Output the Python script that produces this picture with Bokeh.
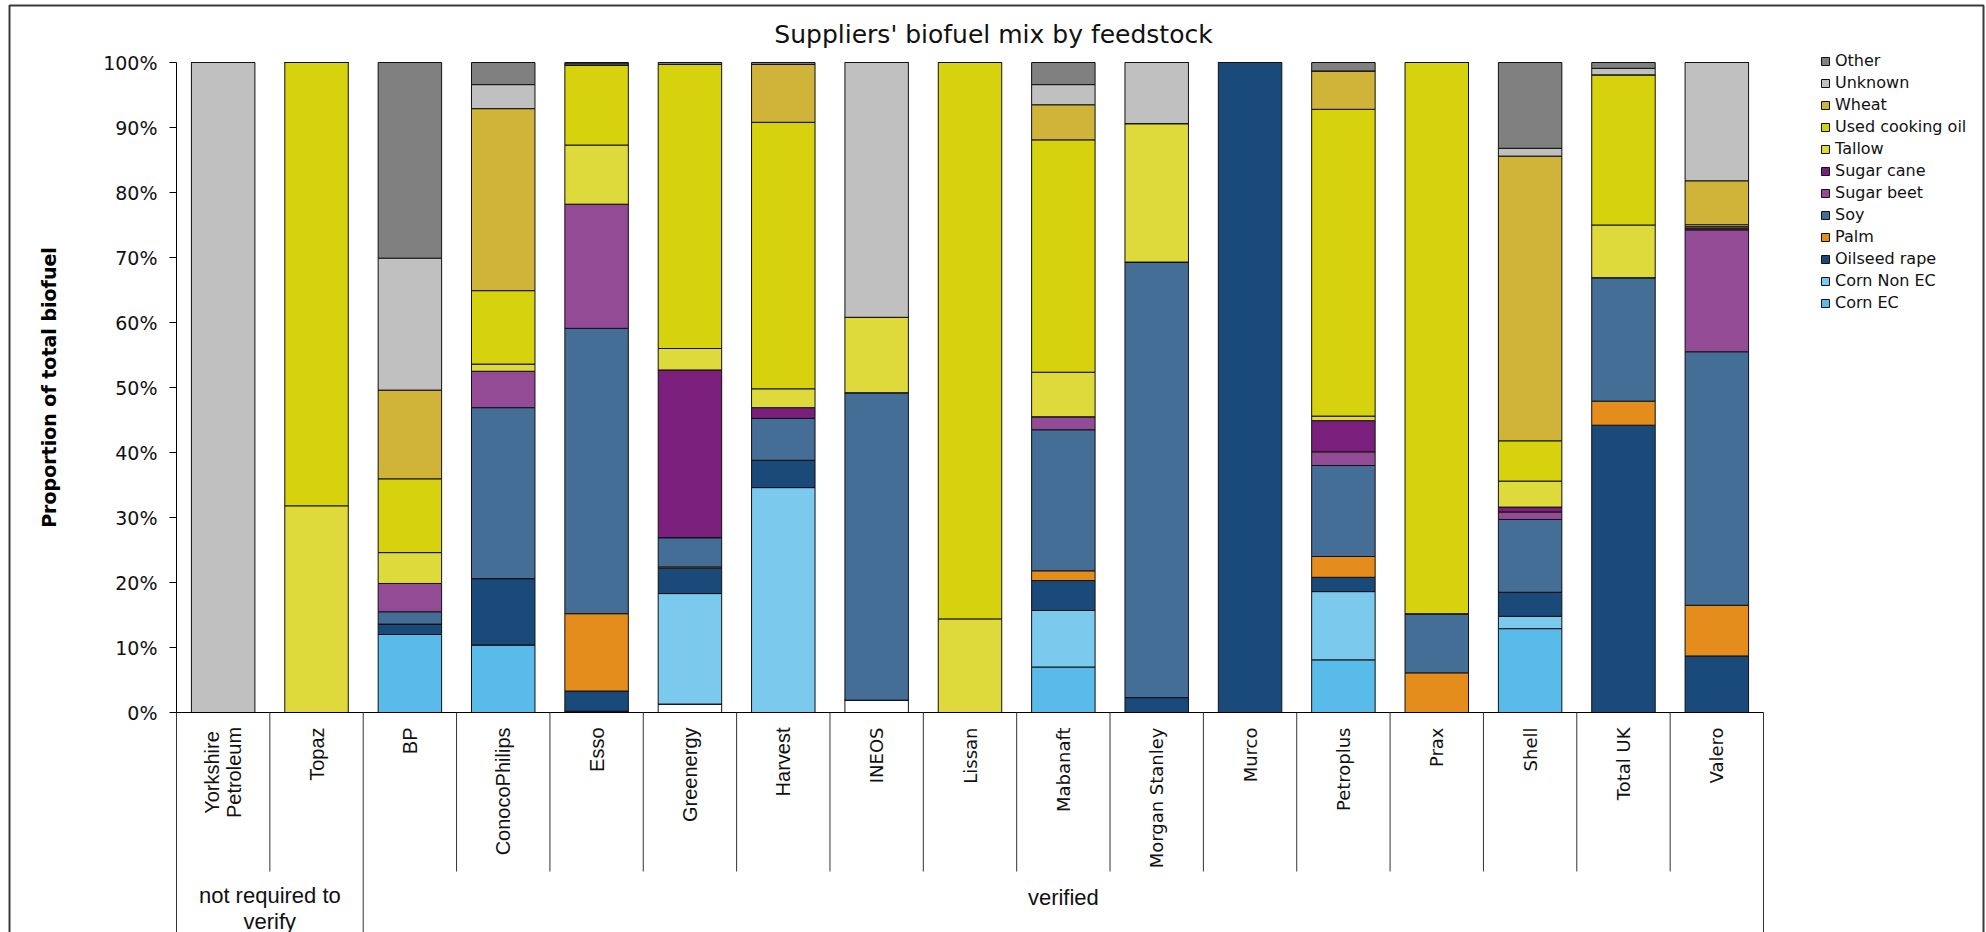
import math

from bokeh.core.properties import value
from bokeh.embed import file_html
from bokeh.models import (ColumnDataSource, FixedTicker, Label, Legend,
                          LegendItem, PrintfTickFormatter, Range1d)
from bokeh.plotting import figure
from bokeh.resources import INLINE

# ---------------------------------------------------------------- data
suppliers = ["Yorkshire Petroleum", "Topaz", "BP", "ConocoPhilips", "Esso",
             "Greenergy", "Harvest", "INEOS", "Lissan", "Mabanaft",
             "Morgan Stanley", "Murco", "Petroplus", "Prax", "Shell",
             "Total UK", "Valero"]
groups = ["not required to\nverify", "verified"]
group_sizes = [2, 15]

# share of each feedstock in every supplier's biofuel (%), bottom to top
unassigned = [0, 0, 0, 0, 0, 1.3, 0, 1.9, 0, 0, 0, 0, 0, 0, 0, 0, 0]
corn_ec = [0, 0, 12.0, 10.4, 0.2, 0, 0, 0, 0, 7.0, 0, 0, 8.1, 0, 12.9, 0, 0]
corn_non_ec = [0, 0, 0, 0, 0, 17.0, 34.6, 0, 0, 8.7, 0, 0, 10.5, 0, 1.9, 0, 0]
oilseed_rape = [0, 0, 1.6, 10.2, 3.1, 3.9, 4.2, 0, 0, 4.6, 2.3, 100, 2.2, 0, 3.7, 44.2, 8.7]
palm = [0, 0, 0, 0, 11.9, 0.2, 0, 0, 0, 1.5, 0, 0, 3.2, 6.1, 0, 3.7, 7.8]
soy = [0, 0, 1.9, 26.3, 43.9, 4.5, 6.45, 47.3, 0, 21.7, 67.0, 0, 14.0, 9.1, 11.2, 19.0, 39.0]
sugar_beet = [0, 0, 4.35, 5.6, 19.1, 0, 0, 0, 0, 2.0, 0, 0, 2.1, 0, 1.15, 0, 18.75]
sugar_cane = [0, 0, 0, 0, 0, 25.8, 1.65, 0, 0, 0, 0, 0, 4.8, 0, 0.75, 0, 0.3]
tallow = [0, 31.8, 4.75, 1.1, 9.1, 3.3, 2.9, 11.6, 14.4, 6.85, 21.3, 0, 0.7, 0, 4.0, 8.1, 0.2]
used_cooking_oil = [0, 68.2, 11.35, 11.3, 12.3, 43.7, 41.0, 0, 85.6, 35.75, 0, 0, 47.2, 84.8, 6.2, 23.1, 0.3]
wheat = [0, 0, 13.65, 28.0, 0, 0, 8.9, 0, 0, 5.4, 0, 0, 5.9, 0, 43.8, 0, 6.75]
unknown = [100, 0, 20.3, 3.7, 0.2, 0, 0, 39.2, 0, 3.1, 9.4, 0, 0, 0, 1.2, 1.0, 18.2]
other = [0, 0, 30.1, 3.4, 0.2, 0.3, 0.3, 0, 0, 3.4, 0, 0, 1.3, 0, 13.2, 0.9, 0]

series_names = ["", "Corn EC", "Corn Non EC", "Oilseed rape", "Palm", "Soy",
                "Sugar beet", "Sugar cane", "Tallow", "Used cooking oil",
                "Wheat", "Unknown", "Other"]
series_values = [unassigned, corn_ec, corn_non_ec, oilseed_rape, palm, soy,
                 sugar_beet, sugar_cane, tallow, used_cooking_oil, wheat,
                 unknown, other]
series_colors = ["#FFFFFF", "#58BBEA", "#7CC9EE", "#1A4A7A", "#E48D1C",
                 "#446E96", "#944B96", "#7A1F7B", "#DEDA3C", "#D6D20E",
                 "#D0B43A", "#C0C0C0", "#808080"]

y_ticks = [0, 10, 20, 30, 40, 50, 60, 70, 80, 90, 100]

# ---------------------------------------------------------------- layout
W, H = 1986, 932
AX_LEFT, AX_RIGHT = 176, 1763      # pixel extent of the category axis
Y0_PX, Y100_PX = 712, 62           # pixel rows of 0 % and 100 %
n = len(suppliers)
px_per_cat = (AX_RIGHT - AX_LEFT) / n
px_per_pct = (Y0_PX - Y100_PX) / 100.0


def dx(px):
    return (px - AX_LEFT) / px_per_cat


def dy(py):
    return (Y0_PX - py) / px_per_pct


p = figure(width=W, height=H, output_backend="svg", toolbar_location=None,
           x_range=Range1d(dx(0), dx(W)), y_range=Range1d(dy(H), dy(0)),
           x_axis_location=None, min_border=0, title=None,
           background_fill_color="white", border_fill_color="white")
p.outline_line_color = None
p.grid.visible = False

# y axis drawn at the left edge of the category area
yax = p.yaxis[0]
yax.fixed_location = 0
yax.bounds = (0, 100)
yax.ticker = FixedTicker(ticks=y_ticks)
yax.formatter = PrintfTickFormatter(format="%d%%")
yax.axis_line_color = "black"
yax.axis_line_width = 1
yax.major_tick_line_color = "black"
yax.major_tick_out = 7
yax.major_tick_in = 0
yax.minor_tick_out = 0
yax.minor_tick_in = 0
yax.major_label_standoff = 12
yax.major_label_text_font = "DejaVu Sans"
yax.major_label_text_font_size = "19px"
yax.major_label_text_color = "#111111"

# stacked bars
data = {"x": [i + 0.5 for i in range(n)]}
keys = []
for k, vals in enumerate(series_values):
    key = "s%d" % k
    keys.append(key)
    data[key] = vals
source = ColumnDataSource(data)
bars = p.vbar_stack(keys, x="x", width=0.68, source=source,
                    fill_color=series_colors, line_color="#111111",
                    line_width=1)

# category axis line and cell dividers
p.segment(x0=[0], y0=[0], x1=[n], y1=[0], line_color="black", line_width=1)
group_edges = [0]
for s in group_sizes:
    group_edges.append(group_edges[-1] + s)
div_x = list(range(n + 1))
div_bottom = [dy(H + 5) if i in group_edges else dy(871) for i in div_x]
p.segment(x0=div_x, y0=[0] * len(div_x), x1=div_x, y1=div_bottom,
          line_color="#333333", line_width=1)

# supplier names, vertical; the first name is set on two centred lines
line_off = 11 / px_per_cat
for word, off in zip(suppliers[0].split(" "), (-line_off, line_off)):
    p.add_layout(Label(x=0.5 + off, y=dy(772), text=word, angle=math.pi / 2,
                       text_align="center", text_baseline="middle",
                       text_font="Liberation Sans", text_font_size="20px",
                       text_color="#111111"))
left_n = 7
p.text(x=[i + 0.5 for i in range(1, left_n)], y=[dy(727)] * (left_n - 1),
       text=suppliers[1:left_n], angle=math.pi / 2,
       text_align="right", text_baseline="middle",
       text_font=value("Liberation Sans"), text_font_size="20px",
       text_color="#111111")
p.text(x=[i + 0.5 for i in range(left_n, n)], y=[dy(727)] * (n - left_n),
       text=suppliers[left_n:], angle=math.pi / 2,
       text_align="right", text_baseline="middle",
       text_font=value("DejaVu Sans"), text_font_size="18px",
       text_color="#111111")

# group names
gx = [(group_edges[g] + group_edges[g + 1]) / 2 for g in range(len(groups))]
p.text(x=gx, y=[dy(908), dy(897)], text=groups, text_align="center",
       text_baseline="middle", text_font=value("Liberation Sans"),
       text_font_size="22px", text_color="#111111", text_line_height=1.05)

# title and y-axis title
p.text(x=[dx(993)], y=[dy(34)], text=["Suppliers' biofuel mix by feedstock"],
       text_align="center", text_baseline="middle",
       text_font=value("DejaVu Sans"), text_font_size="25px",
       text_color="#111111")
p.text(x=[dx(48)], y=[50], text=["Proportion of total biofuel"],
       angle=math.pi / 2, text_align="center", text_baseline="middle",
       text_font=value("DejaVu Sans"), text_font_size="19px",
       text_font_style="bold", text_color="black")

# outer chart border
bx0, bx1, by0, by1 = dx(9), dx(1983), dy(5), dy(H + 10)
p.multi_line(xs=[[bx0, bx0, bx1, bx1]], ys=[[by1, by0, by0, by1]],
             line_color="#3a3a3a", line_width=2)

# legend, top entry first
items = [LegendItem(label=series_names[k], renderers=[bars[k]])
         for k in range(len(series_names) - 1, 0, -1)]
legend = Legend(items=items, location=(1820, 619), orientation="vertical",
                glyph_width=10, glyph_height=10, label_standoff=5,
                label_height=21, spacing=1, padding=0, margin=0,
                border_line_color=None, background_fill_alpha=0,
                label_text_font="DejaVu Sans", label_text_font_size="16px",
                label_text_color="#111111")
p.add_layout(legend)

open("out.html", "w").write(file_html(p, INLINE))
